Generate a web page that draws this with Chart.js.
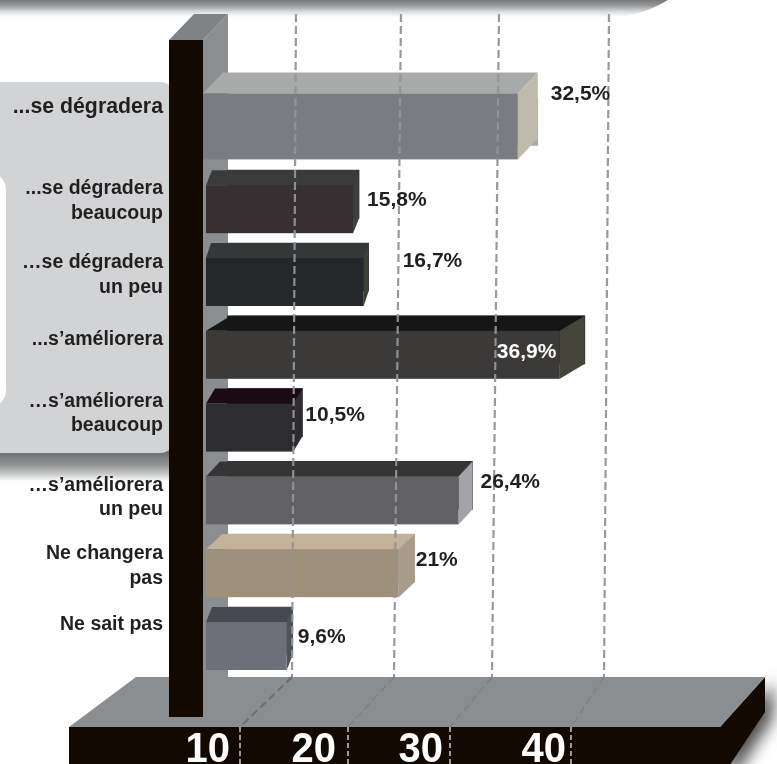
<!DOCTYPE html>
<html><head><meta charset="utf-8">
<style>html,body{margin:0;padding:0;background:#fff}canvas{display:block}</style>
<script src="https://cdn.jsdelivr.net/npm/chart.js@4/dist/chart.umd.js"></script>
</head><body><canvas id="c" width="777" height="764"></canvas>
<script>
const categories = [["...se dégradera"],["...se dégradera","beaucoup"],["…se dégradera","un peu"],["...s’améliorera"],["…s’améliorera","beaucoup"],["…s’améliorera","un peu"],["Ne changera","pas"],["Ne sait pas"]];
const values = [32.5,15.8,16.7,36.9,10.5,26.4,21,9.6];
const valueLabels = ["32,5%","15,8%","16,7%","36,9%","10,5%","26,4%","21%","9,6%"];
const tickValues = [10,20,30,40];
const tickLabels = ["10","20","30","40"];

// face colours
const frontColors = ["#7b7c81","#372f31","#25282a","#3b3a38","#2d2c31","#626166","#9d917b","#6d7079"];
const topColors   = ["#a8aaa9","#3a3b3d","#343839","#151716","#1a0a14","#353536","#c3b199","#464a50"];
const sideColors  = ["#bfbaa9","#3e3d40","#3a4238","#45453c","#2d2c31","#a3a4a7","#a89d8a","#4f535a"];
// extrusion and annotation styling per bar
const depthX = [20,6,5,25,9,14,16,6];
const depthY = [21,15,15,15,15,15,15,15];
const rise   = [25,0,0,0,0,0,0,0];
const grow   = [18,0,0,0,0,0,0,0];
const leftGap= [13,16,16,16,16,16,16,16];
const labelDy= [-14,7,8,0,1,12,8,-6];
const valDx  = [13,8,34,-88,3,8,1,5];
const valDy  = [-27,6,-6,12,3,-3,2,6];
const valColor=["#231f20","#231f20","#231f20","#ffffff","#231f20","#231f20","#231f20","#231f20"];
// gridline bends relative to the value-axis tick
const gridTop   = [-1,-3,-12,-9];
const gridFloor = [-5,-10,-19,-14];
const gridFront = [-57,-56,-61,-47];
const tickRight = [-67,-68,-68,-52];

function poly(ctx,pts,fill){ctx.beginPath();pts.forEach((p,i)=>i?ctx.lineTo(p[0],p[1]):ctx.moveTo(p[0],p[1]));ctx.closePath();ctx.fillStyle=fill;ctx.fill();}

const scenery = {
  id:'scenery',
  beforeDatasetsDraw(chart){
    const ctx=chart.ctx;
    ctx.save();
    ctx.fillStyle='#fff';ctx.fillRect(0,0,777,764);
    // top band shadow
    const tg=ctx.createLinearGradient(0,0,0,17);
    tg.addColorStop(0,'#76787b');tg.addColorStop(0.35,'#9a9c9e');tg.addColorStop(0.7,'#dcdddd');tg.addColorStop(1,'#ffffff');
    ctx.fillStyle=tg;ctx.beginPath();ctx.moveTo(0,0);ctx.lineTo(668,0);ctx.quadraticCurveTo(640,17,610,17);ctx.lineTo(0,17);ctx.closePath();ctx.fill();
    // label panel and its shadow
    const g=ctx.createLinearGradient(0,453,0,481);
    g.addColorStop(0,'#6f7072');g.addColorStop(0.45,'#959698');g.addColorStop(0.75,'#c8c9ca');g.addColorStop(1,'#ffffff');
    ctx.fillStyle=g;ctx.fillRect(0,445,172,36);
    ctx.fillStyle='#d1d3d4';ctx.beginPath();ctx.roundRect(-30,82,206,371,16);ctx.fill();
    ctx.fillStyle='#fff';ctx.beginPath();ctx.roundRect(-30,172,36,236,18);ctx.fill();
    // wall side and top
    poly(ctx,[[203,40],[228,14],[228,690],[203,690]],'#8b8e90');
    poly(ctx,[[169,40],[194,14],[228,14],[203,40]],'#808385');
    // floor
    ctx.save();ctx.shadowColor='rgba(0,0,0,0.7)';ctx.shadowBlur=16;ctx.shadowOffsetX=8;ctx.shadowOffsetY=6;
    poly(ctx,[[720,727],[765,677],[765,712],[720,780]],'#120a02');ctx.restore();
    poly(ctx,[[69,727],[136,677],[765,677],[720,727]],'#8b8e90');
    ctx.fillStyle='#120a02';ctx.fillRect(69,727,651,37);
    // wall front
    ctx.fillStyle='#120a02';ctx.fillRect(169,40,34,677);
    ctx.restore();
  },
  afterDatasetsDraw(chart){
    const ctx=chart.ctx, xs=chart.scales.x, ys=chart.scales.y;
    const els=chart.getDatasetMeta(0).data;
    ctx.save();
    // 3D faces built on the library's bar elements
    els.forEach((el,i)=>{
      const backRight=el.x, backTop=el.y-el.height/2-rise[i], h=el.height+grow[i];
      const fr=backRight-depthX[i], ft=backTop+depthY[i], fl=xs.getPixelForValue(0)+leftGap[i];
      poly(ctx,[[fl,ft],[fl+depthX[i],backTop],[backRight,backTop],[fr,ft]],topColors[i]);
      poly(ctx,[[fr,ft],[backRight,backTop],[backRight,backTop+h],[fr,ft+h]],sideColors[i]);
      ctx.fillStyle=frontColors[i];ctx.fillRect(fl,ft,fr-fl,h);
    });
    // dashed gridlines and tick labels
    tickValues.forEach((v,i)=>{
      const x=xs.getPixelForValue(v);
      ctx.setLineDash([8,4]);ctx.lineWidth=2.2;
      ctx.strokeStyle='rgba(146,148,153,0.95)';
      ctx.beginPath();ctx.moveTo(x+gridTop[i],14);ctx.lineTo(x+gridFloor[i],677);ctx.stroke();
      ctx.strokeStyle=i===0?'#6a6c6e':'#7c7f81';ctx.lineWidth=i===0?2:1.2;
      ctx.beginPath();ctx.moveTo(x+gridFloor[i],677);ctx.lineTo(x+gridFront[i],727);ctx.stroke();
      ctx.strokeStyle='#c9c9c9';ctx.lineWidth=1.5;ctx.setLineDash([5,3]);
      ctx.beginPath();ctx.moveTo(x+gridFront[i],727);ctx.lineTo(x+gridFront[i],764);ctx.stroke();
      ctx.setLineDash([]);
      ctx.save();
      ctx.translate(x+tickRight[i],762);ctx.scale(0.93,1);
      ctx.font='bold 43px "Liberation Sans"';ctx.fillStyle='#fff';ctx.textAlign='right';ctx.textBaseline='alphabetic';
      ctx.fillText(tickLabels[i],0,0);
      ctx.restore();
    });
    // category labels
    ctx.fillStyle='#231f20';ctx.textAlign='right';ctx.textBaseline='middle';
    categories.forEach((lines,i)=>{
      ctx.font='bold '+(i===0?21.3:19.5)+'px "Liberation Sans"';
      const c=ys.getPixelForValue(i)+labelDy[i];
      lines.forEach((t,k)=>ctx.fillText(t,163,c+(k-(lines.length-1)/2)*24.5));
    });
    // value labels
    ctx.font='bold 21px "Liberation Sans"';ctx.textAlign='left';
    els.forEach((el,i)=>{ctx.fillStyle=valColor[i];ctx.fillText(valueLabels[i],el.x+valDx[i],el.y+valDy[i]);});
    ctx.restore();
  }
};

new Chart(document.getElementById('c'),{
  type:'bar',
  data:{labels:categories,datasets:[{data:values,backgroundColor:topColors,barThickness:48,base:3.5,borderWidth:0}]},
  options:{
    indexAxis:'y',responsive:false,animation:false,
    layout:{padding:{left:190,right:52,top:85,bottom:96.6}},
    plugins:{legend:{display:false},tooltip:{enabled:false}},
    scales:{
      x:{type:'linear',min:0,max:50,display:false},
      y:{type:'category',display:false}
    }
  },
  plugins:[scenery]
});
</script></body></html>
